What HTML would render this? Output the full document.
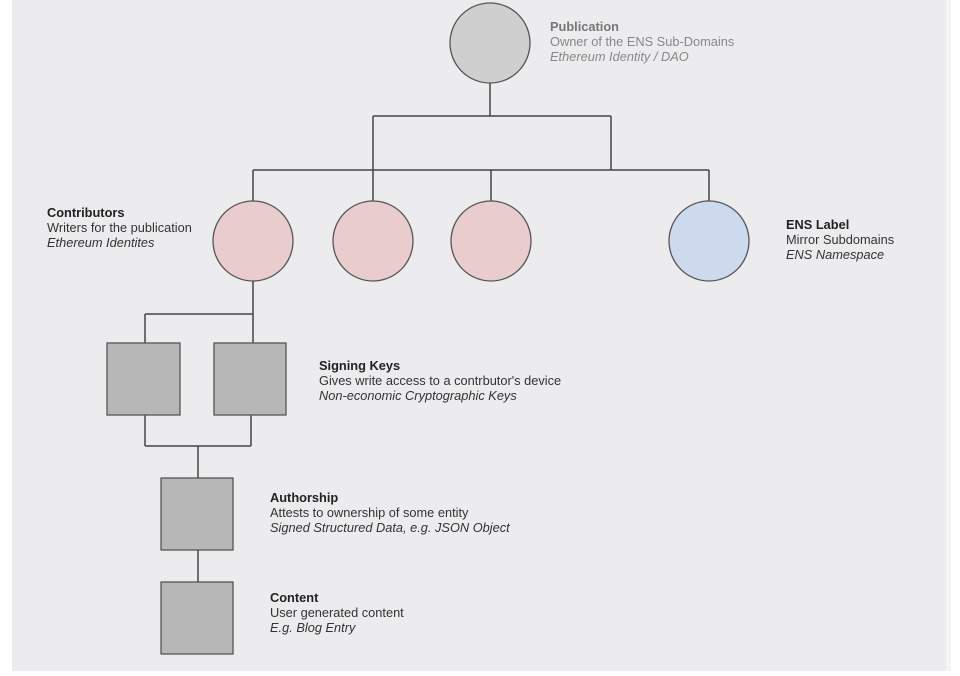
<!DOCTYPE html>
<html><head><style>
html,body{margin:0;padding:0;background:#fff;}
.t{font-family:"Liberation Sans",sans-serif;font-size:12.8px;fill:#333;}
.b{font-weight:bold;fill:#222;}
.i{font-style:italic;}
</style></head><body>
<svg width="960" height="671" xmlns="http://www.w3.org/2000/svg">
<rect x="12" y="0" width="934" height="671" fill="#ececee"/>
<rect x="946" y="0" width="5" height="671" fill="#f4f4f5"/>
<g stroke="#444" stroke-width="1.5" fill="none">
<path d="M490 83V116M373 116H611M373 116V170M611 116V170M253 170H709M253 170V201M373 170V201M491 170V201M709 170V201"/>
<path d="M253 281V343M145 314H253M145 314V343M145 415V446M251 415V446M145 446H251M198 446V478M198 550V582"/>
</g>
<g stroke="#555" stroke-width="1.3">
<circle cx="490" cy="43" r="40" fill="#cfcfd0"/>
<circle cx="253" cy="241" r="40" fill="#e9cccd"/>
<circle cx="373" cy="241" r="40" fill="#e9cccd"/>
<circle cx="491" cy="241" r="40" fill="#e9cccd"/>
<circle cx="709" cy="241" r="40" fill="#cdd9ec"/>
<rect x="107" y="343" width="73" height="72" fill="#b7b7b8"/>
<rect x="214" y="343" width="72" height="72" fill="#b7b7b8"/>
<rect x="161" y="478" width="72" height="72" fill="#b7b7b8"/>
<rect x="161" y="582" width="72" height="72" fill="#b7b7b8"/>
</g>
<g class="t">
<text x="550" y="31" class="t b" style="fill:#777">Publication</text>
<text x="550" y="46" style="fill:#888">Owner of the ENS Sub-Domains</text>
<text x="550" y="61" class="t i" style="fill:#888">Ethereum Identity / DAO</text>
<text x="47" y="217" class="t b">Contributors</text>
<text x="47" y="232">Writers for the publication</text>
<text x="47" y="247" class="t i">Ethereum Identites</text>
<text x="786" y="229" class="t b">ENS Label</text>
<text x="786" y="244">Mirror Subdomains</text>
<text x="786" y="259" class="t i">ENS Namespace</text>
<text x="319" y="370" class="t b">Signing Keys</text>
<text x="319" y="385">Gives write access to a contrbutor's device</text>
<text x="319" y="400" class="t i">Non-economic Cryptographic Keys</text>
<text x="270" y="502" class="t b">Authorship</text>
<text x="270" y="517">Attests to ownership of some entity</text>
<text x="270" y="532" class="t i">Signed Structured Data, e.g. JSON Object</text>
<text x="270" y="602" class="t b">Content</text>
<text x="270" y="617">User generated content</text>
<text x="270" y="632" class="t i">E.g. Blog Entry</text>
</g>
</svg>
</body></html>
